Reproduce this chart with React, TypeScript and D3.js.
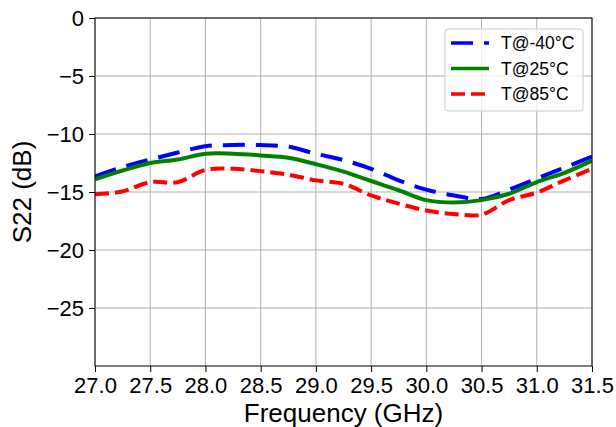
import { useRef, useEffect } from "react";
import * as d3 from "d3";

// frequency points (GHz) and S22 readings (dB) per temperature
const freq = [27.0, 27.25, 27.5, 27.75, 28.0, 28.25, 28.5, 28.75, 29.0, 29.25, 29.5, 29.75, 30.0, 30.25, 30.5, 30.75, 31.0, 31.25, 31.5];
const sMinus40 = [-13.65, -12.85, -12.2, -11.6, -11.05, -10.95, -10.95, -11.1, -11.7, -12.25, -13.0, -14.0, -14.8, -15.3, -15.6, -14.8, -13.85, -12.9, -11.95];
const s25 = [-13.9, -13.15, -12.5, -12.2, -11.7, -11.7, -11.85, -12.05, -12.6, -13.25, -14.05, -14.85, -15.7, -15.9, -15.7, -15.15, -14.15, -13.35, -12.3];
const s85 = [-15.2, -14.95, -14.15, -14.15, -13.1, -13.0, -13.2, -13.5, -14.0, -14.3, -15.3, -16.0, -16.6, -16.9, -16.95, -15.7, -15.05, -14.0, -13.0];

const seriesNames = ["T@-40°C", "T@25°C", "T@85°C"];
const xTicks = [27.0, 27.5, 28.0, 28.5, 29.0, 29.5, 30.0, 30.5, 31.0, 31.5];
const yTicks = [0, -5, -10, -15, -20, -25];

const W = 616;
const H = 427;
const margin = { left: 95, right: 24, top: 18, bottom: 61 };
const FONT = "Liberation Sans, Arial, sans-serif";

function drawChart(svgEl: SVGSVGElement) {
  const svg = d3.select(svgEl);
  svg.selectAll("*").remove();

  const x = d3.scaleLinear().domain([27, 31.5]).range([margin.left, W - margin.right]);
  const y = d3.scaleLinear().domain([-30, 0]).range([H - margin.bottom, margin.top]);

  const [x0, x1] = x.range();
  const [y0, y1] = y.range();

  // grid
  const grid = svg.append("g").attr("stroke", "#b0b0b0").attr("stroke-width", 1);
  xTicks.forEach((t) => {
    grid.append("line").attr("x1", x(t)).attr("x2", x(t)).attr("y1", y0).attr("y2", y1);
  });
  yTicks.forEach((t) => {
    grid.append("line").attr("x1", x0).attr("x2", x1).attr("y1", y(t)).attr("y2", y(t));
  });

  // curves
  const series = [
    { name: seriesNames[0], values: sMinus40, color: "#0000ff", dash: "22,11" },
    { name: seriesNames[1], values: s25, color: "#008000", dash: null },
    { name: seriesNames[2], values: s85, color: "#ff0000", dash: "14,6" },
  ];

  const line = d3
    .line<number>()
    .x((_, i) => x(freq[i]))
    .y((d) => y(d))
    .curve(d3.curveCatmullRom.alpha(0.5));

  const clip = svg.append("clipPath").attr("id", "plotclip");
  clip.append("rect").attr("x", x0).attr("y", y1).attr("width", x1 - x0).attr("height", y0 - y1);

  const lines = svg.append("g").attr("clip-path", "url(#plotclip)");
  series.forEach((s) => {
    lines
      .append("path")
      .attr("d", line(s.values))
      .attr("fill", "none")
      .attr("stroke", s.color)
      .attr("stroke-width", 4)
      .attr("stroke-dasharray", s.dash)
      .attr("stroke-linejoin", "round");
  });

  // frame
  svg
    .append("rect")
    .attr("x", x0)
    .attr("y", y1)
    .attr("width", x1 - x0)
    .attr("height", y0 - y1)
    .attr("fill", "none")
    .attr("stroke", "#000")
    .attr("stroke-width", 1);

  // axes
  const xAxis = svg
    .append("g")
    .attr("transform", `translate(0,${y0})`)
    .call(d3.axisBottom(x).tickValues(xTicks).tickFormat(d3.format(".1f")).tickSize(6).tickSizeOuter(0));
  const yAxis = svg
    .append("g")
    .attr("transform", `translate(${x0},0)`)
    .call(d3.axisLeft(y).tickValues(yTicks).tickFormat((d) => d3.format("d")(d as number).replace("-", "\u2212")).tickSize(6).tickSizeOuter(0));

  [xAxis, yAxis].forEach((a) => {
    a.select(".domain").remove();
    a.selectAll("text").attr("font-family", FONT).attr("font-size", 22).attr("fill", "#000");
    a.selectAll("line").attr("stroke", "#000");
  });
  xAxis.selectAll("text").attr("y", 27).attr("dy", 0);
  yAxis.selectAll("text").attr("x", -11);

  // labels
  svg
    .append("text")
    .attr("x", (x0 + x1) / 2)
    .attr("y", H - 5)
    .attr("text-anchor", "middle")
    .attr("font-family", FONT)
    .attr("font-size", 26)
    .text("Frequency (GHz)");
  svg
    .append("text")
    .attr("transform", `translate(31,${(y0 + y1) / 2}) rotate(-90)`)
    .attr("text-anchor", "middle")
    .attr("font-family", FONT)
    .attr("font-size", 26)
    .text("S22 (dB)");

  // legend
  const lg = svg.append("g").attr("transform", "translate(445,29)");
  lg.append("rect")
    .attr("width", 138)
    .attr("height", 82)
    .attr("rx", 3)
    .attr("fill", "#fff")
    .attr("fill-opacity", 0.8)
    .attr("stroke", "#cccccc");
  series.forEach((s, i) => {
    const cy = 14 + i * 25.5;
    lg.append("line")
      .attr("x1", 6)
      .attr("x2", 44)
      .attr("y1", cy)
      .attr("y2", cy)
      .attr("stroke", s.color)
      .attr("stroke-width", 3.5)
      .attr("stroke-dasharray", s.dash);
    lg.append("text")
      .attr("x", 56)
      .attr("y", cy)
      .attr("dy", "0.35em")
      .attr("font-family", FONT)
      .attr("font-size", 17.5)
      .text(s.name);
  });
}

export default function App() {
  const ref = useRef<SVGSVGElement>(null);

  useEffect(() => {
    if (ref.current) drawChart(ref.current);
  }, []);

  return (
    <svg
      ref={ref}
      width={W}
      height={H}
      style={{ position: "absolute", left: 0, top: 0, background: "#fff" }}
    ></svg>
  );
}
